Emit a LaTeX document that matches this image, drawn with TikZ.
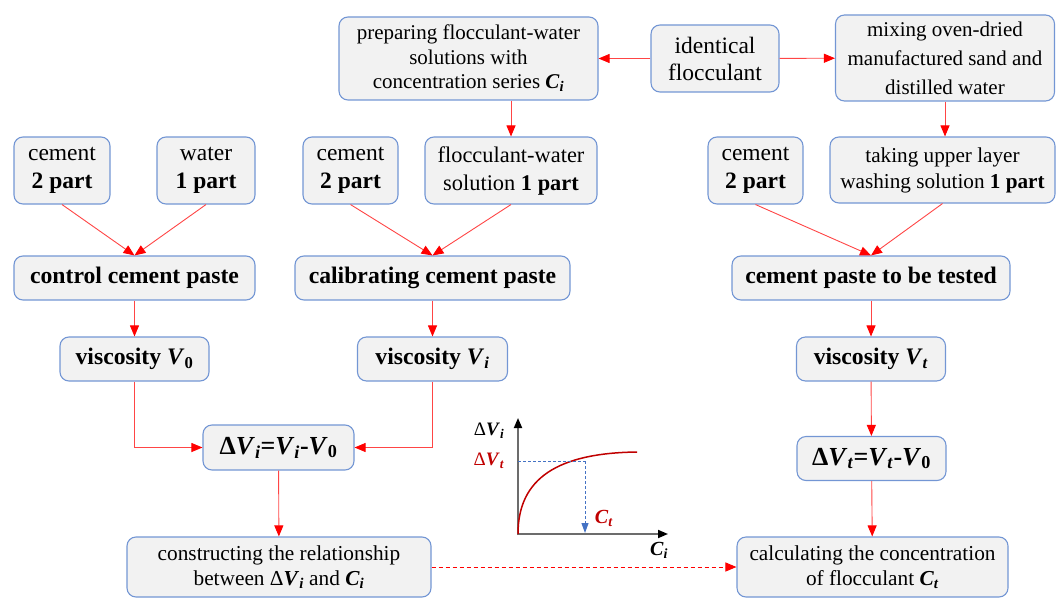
\documentclass[tikz,border=0pt]{standalone}
\usepackage{fontspec}
\setmainfont{Liberation Serif}
\usepackage{xcolor}
\usepackage{tikz}
\usetikzlibrary{arrows.meta,positioning}
\definecolor{boxline}{HTML}{7396D4}
\definecolor{boxfill}{HTML}{F2F2F2}
\definecolor{arrowred}{HTML}{FF4545}
\definecolor{curvered}{HTML}{C00000}
\definecolor{dashblue}{HTML}{4472C4}
\newcommand{\bi}[1]{\textbf{\textit{#1}}}
\newcommand{\vsub}[2]{\bi{#1}\textsubscript{\bi{#2}}}
\newcommand{\vzero}{\bi{V}\textsubscript{\textbf{0}}}
\tikzstyle{input} = [rectangle, rounded corners=9pt, draw=boxline, line width=1.1pt, fill=boxfill, align=center, inner sep=2pt, font=\fontsize{23.5}{28}\selectfont]
\tikzstyle{process} = [input, minimum height=44pt, font=\fontsize{23.7}{26}\selectfont\bfseries]
\tikzstyle{result} = [input, minimum height=45pt, font=\fontsize{26}{30}\selectfont\bfseries]
\tikzstyle{arrow} = [arrowred, line width=0.9pt, -{Triangle[length=11pt,width=9pt,color=red]}]
\tikzstyle{axis} = [line width=1.8pt, gray!85!black, -{Triangle[length=10pt,width=8pt,color=black]}]

\begin{document}
\begin{tikzpicture}[x=1pt, y=-1pt, node distance=81pt]
\useasboundingbox (0,0) rectangle (1056,599);

	\node (prep) [input, minimum width=259pt, minimum height=83pt, font=\fontsize{21}{24.5}\selectfont] at (468.5,58.5) {preparing flocculant-water\\solutions with\\concentration series \vsub{C}{i}};
	\node (ident) [input, minimum width=128pt, minimum height=67pt, font=\fontsize{23.5}{27}\selectfont] at (715,58.5) {identical\\flocculant};
	\node (mix) [input, minimum width=219pt, minimum height=86pt, font=\fontsize{21}{29}\selectfont] at (945,58) {mixing oven-dried\\manufactured sand and\\distilled water};

	\node (cem1) [input, minimum width=96pt, minimum height=67pt] at (62,170.5) {cement\\\textbf{2 part}};
	\node (water) [input, minimum width=98pt, minimum height=67pt] at (206,170.5) {water\\\textbf{1 part}};
	\node (cem2) [input, minimum width=95pt, minimum height=67pt] at (350.5,170.5) {cement\\\textbf{2 part}};
	\node (floc) [input, minimum width=172pt, minimum height=67pt, font=\fontsize{22.4}{28}\selectfont] at (511,170.5) {flocculant-water\\solution \textbf{1 part}};
	\node (cem3) [input, minimum width=95pt, minimum height=67pt] at (755.5,170.5) {cement\\\textbf{2 part}};
	\node (take) [input, minimum width=225pt, minimum height=66pt, font=\fontsize{21.2}{26}\selectfont] at (942.5,170) {taking upper layer\\washing solution \textbf{1 part}};

	\node (control) [process, minimum width=241pt] at (134.5,278) {control cement paste};
	\node (calib) [process, minimum width=275pt] at (432.5,278) {calibrating cement paste};
	\node (tested) [process, minimum width=278pt] at (871,278) {cement paste to be tested};

	\node (v0) [process, minimum width=149pt, below of=control] {viscosity \vzero};
	\node (vi) [process, minimum width=150pt, below of=calib] {viscosity \vsub{V}{i}};
	\node (vt) [process, minimum width=149pt, below of=tested] {viscosity \vsub{V}{t}};

	\node (dvi) [result, minimum width=151pt] at (278.5,447.5) {Δ\vsub{V}{i}=\vsub{V}{i}-\vzero};
	\node (dvt) [result, minimum width=149pt, minimum height=44pt] at (871.5,458.5) {Δ\vsub{V}{t}=\vsub{V}{t}-\vzero};

	\node (cons) [input, minimum width=304pt, minimum height=60pt, font=\fontsize{21.3}{25}\selectfont] at (279,567) {constructing the relationship\\between Δ\vsub{V}{i} and \vsub{C}{i}};
	\node (calc) [input, minimum width=271pt, minimum height=60pt, font=\fontsize{21.3}{25}\selectfont] at (872.5,567) {calculating the concentration\\of flocculant \vsub{C}{t}};

	\draw [arrow] (ident) -- (prep);
	\draw [arrow] (ident) -- (mix);
	\draw [arrow] (prep.south -| floc.north) -- (floc.north);
	\draw [arrow] (mix.south) -- (mix.south |- take.north);

	\draw [arrow] (cem1.south) -- (control.north);
	\draw [arrow] (water.south) -- (control.north);
	\draw [arrow] (cem2.south) -- (calib.north);
	\draw [arrow] (floc.south) -- (calib.north);
	\draw [arrow] (cem3.south) -- (tested.north);
	\draw [arrow] (take.south) -- (tested.north);

	\draw [arrow] (control) -- (v0);
	\draw [arrow] (calib) -- (vi);
	\draw [arrow] (tested) -- (vt);
	\draw [arrow] (v0.south) |- (dvi.west);
	\draw [arrow] (vi.south) |- (dvi.east);
	\draw [arrow] (vt) -- (dvt);
	\draw [arrow] (dvi) -- (cons);
	\draw [arrow] (dvt) -- (calc);
	\draw [arrow, red, line width=1pt, dash pattern=on 4pt off 3pt] (cons) -- (calc);

	\draw [axis] (518,535) -- (518,418);
	\draw [axis] (517,534) -- (668,534);
	\draw [curvered, line width=1.5pt] (518,534) .. controls (518,478) and (558,453) .. (637,452);
	\draw [dashblue, line width=0.9pt, dash pattern=on 3pt off 2pt] (518,461) -- (585,461);
	\draw [dashblue, line width=0.9pt, dash pattern=on 3pt off 2pt, -{Triangle[length=10pt,width=7pt]}] (585,461) -- (585,533);

	\node (ylab) [font=\fontsize{19}{19}\selectfont] at (489,431) {Δ\vsub{V}{i}};
	\node (lvl) [text=curvered, font=\fontsize{19}{19}\selectfont] at (489,461) {Δ\vsub{V}{t}};
	\node (ct) [text=curvered, font=\fontsize{20}{20}\selectfont] at (604,518) {\vsub{C}{t}};
	\node (xlab) [font=\fontsize{20}{20}\selectfont] at (659,550) {\vsub{C}{i}};

\end{tikzpicture}
\end{document}
